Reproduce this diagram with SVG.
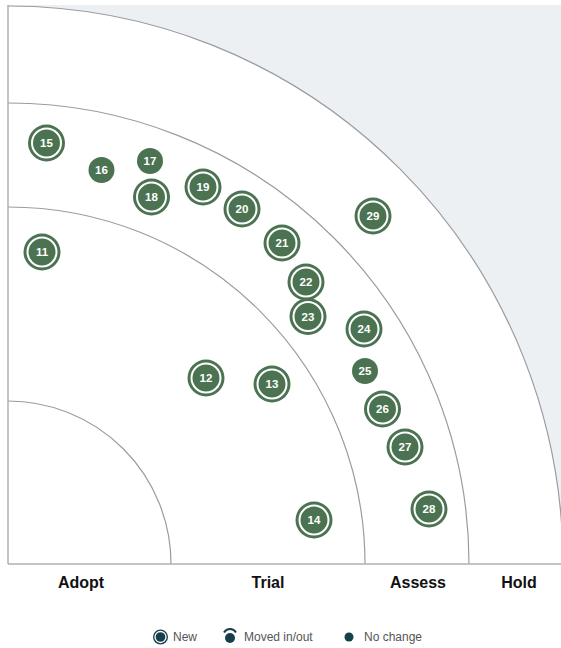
<svg xmlns="http://www.w3.org/2000/svg" width="561" height="648" viewBox="0 0 561 648">
<defs>
<style>
.ring{fill:none;stroke:#9a9ca2;stroke-width:1.2}
.axis{stroke:#aeb0b5;stroke-width:1.5}
.b{fill:#4b7352}
.wr{fill:none;stroke:#fff;stroke-width:2}
.bt{fill:#fff;font-family:"Liberation Sans",Arial,sans-serif;font-size:11.5px;font-weight:bold;text-anchor:middle}
.q{font-family:"Liberation Sans",Arial,sans-serif;font-size:16px;font-weight:bold;fill:#111;text-anchor:middle}
.lt{font-family:"Liberation Sans",Arial,sans-serif;font-size:12px;fill:#555}
.lg{fill:#173f4b}
</style>
<g id="newBlip"><circle r="18.5" class="b"/><circle r="14.5" class="wr"/></g>
<g id="ncBlip"><circle r="13" class="b"/></g>
</defs>
<rect x="8" y="5" width="553" height="559" fill="#ecf0f3"/>
<path d="M8,6 A555,558 0 0 1 563,564 L8,564 Z" fill="#fff"/>
<g id="rings">
<path class="ring" d="M8,6 A555,558 0 0 1 563,564"/>
<path class="ring" d="M8,103 A461,461 0 0 1 469,564"/>
<path class="ring" d="M8,207 A357,357 0 0 1 365,564"/>
<path class="ring" d="M8,401 A163,163 0 0 1 171,564"/>
</g>
<g id="axes">
<line class="axis" x1="8" y1="5" x2="8" y2="564"/>
<line class="axis" x1="8" y1="564" x2="561" y2="564"/>
</g>
<g id="quadrants">
<text class="q" x="81" y="588">Adopt</text>
<text class="q" x="268" y="588">Trial</text>
<text class="q" x="418" y="588">Assess</text>
<text class="q" x="519" y="588">Hold</text>
</g>
<g id="blip-11"><use href="#newBlip" x="42" y="252"/><text class="bt" x="42" y="256">11</text></g>
<g id="blip-12"><use href="#newBlip" x="206" y="378"/><text class="bt" x="206" y="382">12</text></g>
<g id="blip-13"><use href="#newBlip" x="272" y="384"/><text class="bt" x="272" y="388">13</text></g>
<g id="blip-14"><use href="#newBlip" x="314" y="520"/><text class="bt" x="314" y="524">14</text></g>
<g id="blip-15"><use href="#newBlip" x="46.5" y="143"/><text class="bt" x="46.5" y="147">15</text></g>
<g id="blip-16"><use href="#ncBlip" x="101.5" y="170"/><text class="bt" x="101.5" y="174">16</text></g>
<g id="blip-17"><use href="#ncBlip" x="150" y="161"/><text class="bt" x="150" y="165">17</text></g>
<g id="blip-18"><use href="#newBlip" x="151.5" y="197"/><text class="bt" x="151.5" y="201">18</text></g>
<g id="blip-19"><use href="#newBlip" x="203" y="187"/><text class="bt" x="203" y="191">19</text></g>
<g id="blip-20"><use href="#newBlip" x="242" y="209"/><text class="bt" x="242" y="213">20</text></g>
<g id="blip-21"><use href="#newBlip" x="282" y="243"/><text class="bt" x="282" y="247">21</text></g>
<g id="blip-22"><use href="#newBlip" x="306" y="282"/><text class="bt" x="306" y="286">22</text></g>
<g id="blip-23"><use href="#newBlip" x="308" y="316.5"/><text class="bt" x="308" y="320.5">23</text></g>
<g id="blip-24"><use href="#newBlip" x="364" y="329"/><text class="bt" x="364" y="333">24</text></g>
<g id="blip-25"><use href="#ncBlip" x="365" y="371"/><text class="bt" x="365" y="375">25</text></g>
<g id="blip-26"><use href="#newBlip" x="382.5" y="409"/><text class="bt" x="382.5" y="413">26</text></g>
<g id="blip-27"><use href="#newBlip" x="405" y="447"/><text class="bt" x="405" y="451">27</text></g>
<g id="blip-28"><use href="#newBlip" x="429" y="509"/><text class="bt" x="429" y="513">28</text></g>
<g id="blip-29"><use href="#newBlip" x="373" y="216"/><text class="bt" x="373" y="220">29</text></g>
<g id="legend">
<g id="legend-new"><circle cx="160.5" cy="637" r="7.5" class="lg"/><circle cx="160.5" cy="637" r="5.5" fill="none" stroke="#fff" stroke-width="1.3"/><text class="lt" x="173" y="641">New</text></g>
<g id="legend-moved"><circle cx="230" cy="638" r="5" class="lg"/><path d="M224,632.5 A7,7 0 0 1 236,632.5" fill="none" stroke="#173f4b" stroke-width="2"/><text class="lt" x="244" y="641">Moved in/out</text></g>
<g id="legend-nochange"><circle cx="349" cy="637" r="4.5" class="lg"/><text class="lt" x="364" y="641">No change</text></g>
</g>
</svg>
